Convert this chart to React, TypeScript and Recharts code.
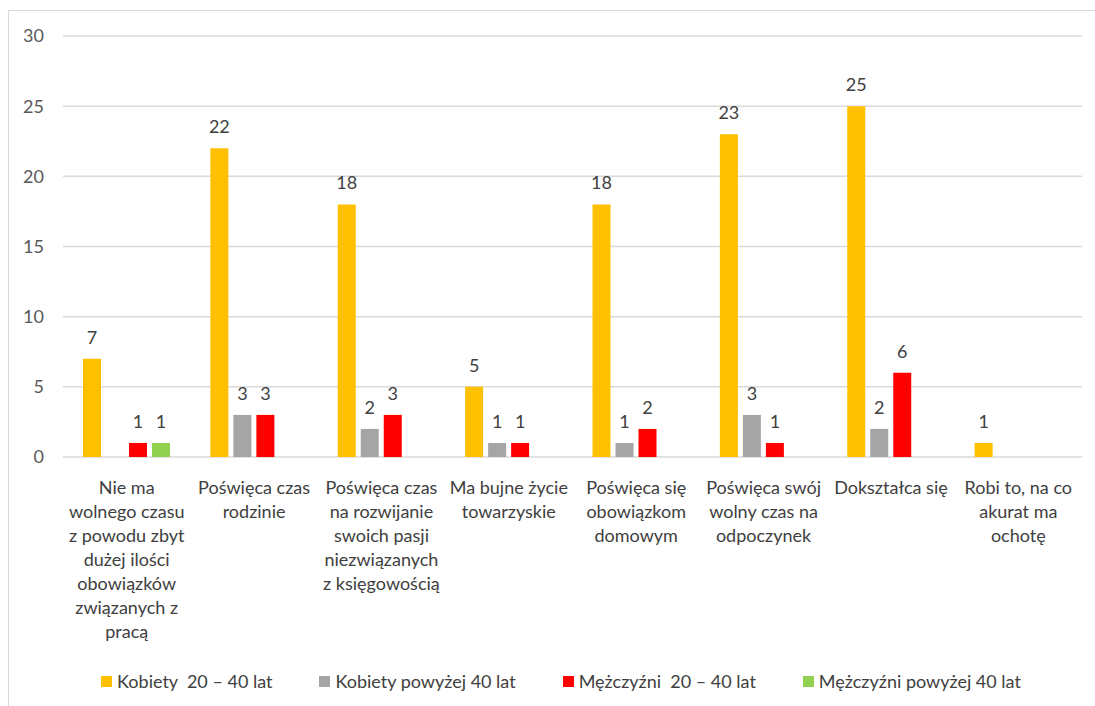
import React from "react";
import {
  BarChart,
  Bar,
  XAxis,
  YAxis,
  CartesianGrid,
  Legend,
  LabelList,
} from "recharts";

const categories = [
  "Nie ma\nwolnego czasu\nz powodu zbyt\ndużej ilości\nobowiązków\nzwiązanych z\npracą",
  "Poświęca czas\nrodzinie",
  "Poświęca czas\nna rozwijanie\nswoich pasji\nniezwiązanych\nz księgowością",
  "Ma bujne życie\ntowarzyskie",
  "Poświęca się\nobowiązkom\ndomowym",
  "Poświęca swój\nwolny czas na\nodpoczynek",
  "Dokształca się",
  "Robi to, na co\nakurat ma\nochotę",
];

const kobiety2040 = [7, 22, 18, 5, 18, 23, 25, 1];
const kobiety40plus = [null, 3, 2, 1, 1, 3, 2, null];
const mezczyzni2040 = [1, 3, 3, 1, 2, 1, 6, null];
const mezczyzni40plus = [1, null, null, null, null, null, null, null];

const yTicks = [0, 5, 10, 15, 20, 25, 30];

const seriesNames = [
  "Kobiety  20 – 40 lat",
  "Kobiety powyżej 40 lat",
  "Mężczyźni  20 – 40 lat",
  "Mężczyźni powyżej 40 lat",
];
const seriesColors = ["#FFC000", "#A5A5A5", "#FF0000", "#92D050"];

const data = categories.map((name, i) => ({
  name,
  k1: kobiety2040[i],
  k2: kobiety40plus[i],
  m1: mezczyzni2040[i],
  m2: mezczyzni40plus[i],
}));

const FONT = "Lato, 'Liberation Sans', sans-serif";
const FS = 18;

function CategoryTick(props: any) {
  const { x, y, payload } = props;
  const lines = String(payload.value).split("\n");
  return (
    <text
      x={x}
      y={y + 35}
      textAnchor="middle"
      fill="#404040"
      fontSize={FS}
      fontFamily={FONT}
    >
      {lines.map((line, i) => (
        <tspan key={i} x={x} dy={i === 0 ? 0 : 24}>
          {line}
        </tspan>
      ))}
    </text>
  );
}

function LegendContent() {
  return (
    <div
      style={{
        display: "flex",
        justifyContent: "center",
        gap: 47,
        fontFamily: FONT,
        fontSize: FS,
        color: "#404040",
        paddingLeft: 40,
        paddingTop: 4,
      }}
    >
      {seriesNames.map((n, i) => (
        <div key={n} style={{ display: "flex", alignItems: "center", gap: 5 }}>
          <div style={{ width: 11, height: 11, background: seriesColors[i] }} />
          <span style={{ whiteSpace: "pre" }}>{n}</span>
        </div>
      ))}
    </div>
  );
}

export default function App() {
  const keys = ["k1", "k2", "m1", "m2"];
  return (
    <div
      style={{
        position: "absolute",
        left: 0,
        top: 0,
        width: 1095,
        height: 706,
        overflow: "hidden",
        background: "#fff",
      }}
    >
      <div
        style={{
          position: "absolute",
          left: 8,
          top: 10,
          width: 1120,
          height: 740,
          border: "1px solid #D9D9D9",
        }}
      />
      <div style={{ position: "absolute", left: 0, top: 0 }}>
        <BarChart
          width={1095}
          height={706}
          data={data}
          margin={{ top: 36, right: 13, left: 0, bottom: 0 }}
          barCategoryGap={20}
          barGap={5}
        >
          <CartesianGrid vertical={false} stroke="#D9D9D9" strokeWidth={1.5} />
          <XAxis
            dataKey="name"
            axisLine={false}
            tickLine={false}
            tickSize={0}
            height={209}
            interval={0}
            tick={<CategoryTick />}
          />
          <YAxis
            domain={[0, 30]}
            ticks={yTicks}
            width={63}
            axisLine={false}
            tickLine={false}
            tickSize={0}
            tickMargin={19}
            tick={{ fill: "#595959", fontSize: FS, fontFamily: FONT }}
          />
          <Legend
            verticalAlign="bottom"
            height={40}
            content={() => <LegendContent />}
          />
          {keys.map((k, i) => (
            <Bar
              key={k}
              dataKey={k}
              name={seriesNames[i]}
              fill={seriesColors[i]}
              isAnimationActive={false}
            >
              <LabelList
                dataKey={k}
                position="top"
                offset={15}
                fill="#404040"
                fontSize={FS}
                fontFamily={FONT}
              />
            </Bar>
          ))}
        </BarChart>
      </div>
    </div>
  );
}
